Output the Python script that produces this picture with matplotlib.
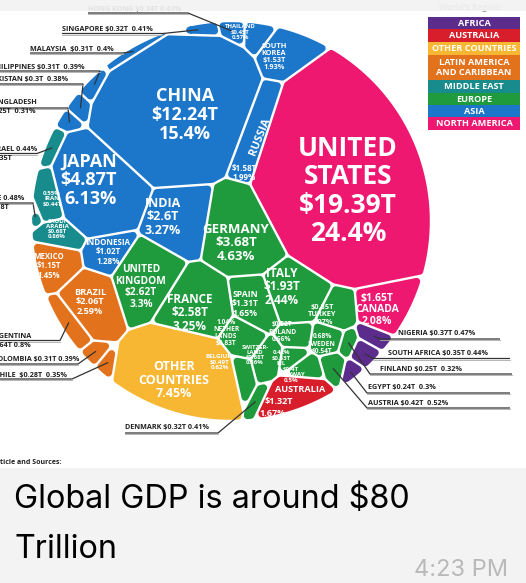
import numpy as np
import matplotlib
matplotlib.use("Agg")
import matplotlib.pyplot as plt
from matplotlib.patches import Polygon, Rectangle

# ---- data ---------------------------------------------------------------
countries = ["United States", "China", "Japan", "Germany", "United Kingdom", "India",
             "France", "Italy", "Brazil", "Canada", "Russia", "South Korea", "Australia",
             "Spain", "Mexico", "Indonesia", "Turkey", "Netherlands", "Saudi Arabia",
             "Switzerland", "Argentina", "Sweden", "Poland", "Belgium", "Thailand", "Iran",
             "Austria", "Norway", "UAE", "Nigeria", "Israel", "South Africa", "Hong Kong",
             "Ireland", "Denmark", "Singapore", "Malaysia", "Philippines", "Colombia",
             "Pakistan", "Chile", "Finland", "Bangladesh", "Egypt", "Other Countries"]
gdp_t = [19.39, 12.24, 4.87, 3.68, 2.62, 2.6, 2.58, 1.93, 2.06, 1.65, 1.58, 1.53, 1.32,
         1.31, 1.15, 1.02, 0.85, 0.83, 0.68, 0.68, 0.64, 0.54, 0.52, 0.49, 0.45, 0.44,
         0.42, 0.4, 0.38, 0.37, 0.35, 0.35, 0.34, 0.33, 0.32, 0.32, 0.31, 0.31, 0.31,
         0.3, 0.28, 0.25, 0.25, 0.24, 5.92]
share_pct = [24.4, 15.4, 6.13, 4.63, 3.3, 3.27, 3.25, 2.44, 2.59, 2.08, 1.99, 1.93, 1.67,
             1.65, 1.45, 1.28, 1.07, 1.04, 0.86, 0.86, 0.8, 0.68, 0.66, 0.62, 0.57, 0.55,
             0.52, 0.5, 0.48, 0.47, 0.44, 0.44, 0.43, 0.42, 0.41, 0.41, 0.4, 0.39, 0.39,
             0.38, 0.35, 0.32, 0.31, 0.3, 7.45]
region = ["North America", "Asia", "Asia", "Europe", "Europe", "Asia", "Europe", "Europe",
          "Latin America", "North America", "Asia", "Asia", "Australia", "Europe",
          "Latin America", "Asia", "Europe", "Europe", "Middle East", "Europe",
          "Latin America", "Europe", "Europe", "Europe", "Asia", "Middle East", "Europe",
          "Europe", "Middle East", "Africa", "Middle East", "Africa", "Asia", "Europe",
          "Europe", "Asia", "Asia", "Asia", "Latin America", "Asia", "Latin America",
          "Europe", "Asia", "Africa", "Other"]

legend_keys = ["Africa", "Australia", "Other", "Latin America", "Middle East", "Europe",
               "Asia", "North America"]
legend_text = ["AFRICA", "AUSTRALIA", "OTHER COUNTRIES", "LATIN AMERICA\nAND CARIBBEAN",
               "MIDDLE EAST", "EUROPE", "ASIA", "NORTH AMERICA"]
region_color = {"Africa": "#5b2c8c", "Australia": "#d81e2b", "Other": "#f7b733",
                "Latin America": "#e3721d", "Middle East": "#188b8c", "Europe": "#1f9a3d",
                "Asia": "#1c76c9", "North America": "#ee1870"}

# ---- layout -------------------------------------------------------------
plt.rcParams['font.family'] = ['Open Sans', 'DejaVu Sans']
W, H = 526, 583
cx, cy, R = 231.0, 221.0, 200.0

# anchor of each cell in the voronoi treemap (pixels)
site_xy = {
    "United States": (355, 170), "China": (170, 105), "Japan": (92, 190),
    "Germany": (238, 232), "United Kingdom": (145, 280), "India": (178, 222),
    "France": (190, 308), "Italy": (280, 287), "Brazil": (88, 298), "Canada": (382, 305),
    "Russia": (263, 140), "South Korea": (277, 62), "Australia": (292, 398),
    "Spain": (243, 300), "Mexico": (52, 260), "Indonesia": (103, 252), "Turkey": (325, 310),
    "Netherlands": (226, 332), "Saudi Arabia": (58, 228), "Switzerland": (255, 353),
    "Argentina": (62, 318), "Sweden": (316, 338), "Poland": (283, 333),
    "Belgium": (220, 362), "Thailand": (240, 34), "Iran": (52, 200), "Austria": (322, 365),
    "Norway": (294, 373), "UAE": (40, 205), "Nigeria": (370, 336), "Israel": (45, 168),
    "South Africa": (360, 354), "Hong Kong": (206, 33), "Ireland": (282, 357),
    "Denmark": (262, 384), "Singapore": (172, 41), "Malaysia": (137, 53),
    "Philippines": (108, 71), "Colombia": (84, 346), "Pakistan": (89, 91), "Chile": (101, 360),
    "Finland": (340, 345), "Bangladesh": (73, 109), "Egypt": (349, 371),
    "Other Countries": (175, 372),
}

S = np.array([site_xy[c] for c in countries], float)
n = len(S)

# power-diagram weights so that cell areas follow the GDP shares
step = 2.0
g = np.arange(-R, R, step) + step / 2
gx, gy = np.meshgrid(cx + g, cy + g)
ins = (gx - cx) ** 2 + (gy - cy) ** 2 <= R * R
P = np.column_stack([gx[ins], gy[ins]])
d2 = ((P[:, None, :] - S[None, :, :]) ** 2).sum(-1)
target = np.array(share_pct) / sum(share_pct) * len(P)
w = np.zeros(n)
for _ in range(700):
    cnt = np.bincount(np.argmin(d2 - w, axis=1), minlength=n)
    w += 0.5 * step ** 2 * (target - cnt)


def clip(poly, a, b, c):
    out = []
    m = len(poly)
    for k in range(m):
        p, q = poly[k], poly[(k + 1) % m]
        fp = a * p[0] + b * p[1] - c
        fq = a * q[0] + b * q[1] - c
        if fp <= 0:
            out.append(p)
        if fp * fq < 0:
            t = fp / (fp - fq)
            out.append((p[0] + t * (q[0] - p[0]), p[1] + t * (q[1] - p[1])))
    return out


def cell(i, inset):
    ts = np.linspace(0, 2 * np.pi, 240, endpoint=False)
    poly = [(cx + (R - inset) * np.cos(t), cy + (R - inset) * np.sin(t)) for t in ts]
    si = S[i]
    for j in range(n):
        if j == i:
            continue
        sj = S[j]
        a, b = 2 * (sj - si)
        c = sj @ sj - si @ si - w[j] + w[i] - inset * np.hypot(a, b)
        poly = clip(poly, a, b, c)
        if len(poly) < 3:
            return []
    return poly


def centroid(poly):
    x = np.array([p[0] for p in poly]); y = np.array([p[1] for p in poly])
    x1, y1 = np.roll(x, -1), np.roll(y, -1)
    cr = x * y1 - x1 * y
    A = cr.sum() / 2
    return (x + x1) @ cr / (6 * A), (y + y1) @ cr / (6 * A)


fig = plt.figure(figsize=(W / 100, H / 100), dpi=100, facecolor="#f3f3f3")
ax = fig.add_axes([0, 0, 1, 1])
ax.set_xlim(0, W)
ax.set_ylim(H, 0)
ax.axis("off")
ax.add_patch(Rectangle((0, 11), W, 457, fc="white", ec="none", zorder=0))

rr = 3.5  # corner rounding
centers = {}
for i, c in enumerate(countries):
    col = region_color[region[i]]
    full = cell(i, 0)
    if len(full) >= 3:
        centers[c] = centroid(full)
    poly = cell(i, rr + 1.2)
    lw = rr * 2 * 0.72
    if len(poly) < 3:
        poly = cell(i, 1.2); lw = 0
    if len(poly) >= 3:
        ax.add_patch(Polygon(poly, closed=True, fc=col, ec=col, lw=lw,
                             joinstyle="round", zorder=2))


def fmt(c, tpl):
    i = countries.index(c)
    return tpl.format(g=f"${gdp_t[i]:g}T", p=f"{share_pct[i]:g}%")


# labels inside the cells: country, x, y, size, template, rotation, ha
inside_labels = [
    ("United States", 348, 191, 19, "UNITED\nSTATES\n{g}\n{p}", 0, "center"),
    ("China", 185, 115, 13, "CHINA\n{g}\n{p}", 0, "center"),
    ("Japan", 117, 180, 13, "JAPAN\n{g}\n{p}", 0, "right"),
    ("India", 163, 217, 9, "INDIA\n{g}\n{p}", 0, "center"),
    ("Germany", 236, 243, 9.5, "GERMANY\n{g}\n{p}", 0, "center"),
    ("United Kingdom", 141, 287, 7.3, "UNITED\nKINGDOM\n{g}\n{p}", 0, "center"),
    ("France", 190, 313, 8.5, "FRANCE\n{g}\n{p}", 0, "center"),
    ("Italy", 282, 287, 8.5, "ITALY\n{g}\n{p}", 0, "center"),
    ("Spain", 245, 304, 6.2, "SPAIN\n{g}\n{p}", 0, "center"),
    ("Netherlands", 226, 333, 4.8, "{p}\nNETHER\nLANDS\n{g}", 0, "center"),
    ("Turkey", 322, 315, 5.3, "{g}\nTURKEY\n{p}", 0, "center"),
    ("Poland", 282, 332, 4.8, "{g}\nPOLAND\n{p}", 0, "center"),
    ("Sweden", 322, 344, 4.8, "{p}\nSWEDEN\n{g}", 0, "center"),
    ("Belgium", 220, 362, 4.5, "BELGIUM\n{g}\n{p}", 0, "center"),
    ("Switzerland", 255, 355, 4.3, "SWITZER-\nLAND\n{g}\n{p}", 0, "center"),
    ("Ireland", 281, 358, 4.3, "{p}\n{g}\nIRL", 0, "center"),
    ("Norway", 291, 375, 4.5, "{g}\nNORWAY\n{p}", 0, "center"),
    ("Canada", 377, 310, 7.5, "{g}\nCANADA\n{p}", 0, "center"),
    ("Australia", 300, 390, 6.6, "AUSTRALIA", 0, "center"),
    ("Australia", 279, 401.5, 6.6, "{g}", 0, "center"),
    ("Australia", 273, 413, 6.6, "{p}", 0, "center"),
    ("Other Countries", 174, 380, 9, "OTHER\nCOUNTRIES\n{p}", 0, "center"),
    ("Mexico", 49, 266, 5.6, "MEXICO\n{g}\n{p}", 0, "center"),
    ("Brazil", 90, 302, 6.6, "BRAZIL\n{g}\n{p}", 0, "center"),
    ("Iran", 52, 199, 4.4, "{p}\nIRAN\n{g}", 0, "center"),
    ("Saudi Arabia", 57, 229, 4.4, "SAUDI\nARABIA\n{g}\n{p}", 0, "center"),
    ("Indonesia", 108, 252, 5.8, "INDONESIA\n{g}\n{p}", 0, "center"),
    ("South Korea", 274, 57, 5.3, "SOUTH\nKOREA\n{g}\n{p}", 0, "center"),
    ("Thailand", 240, 32, 4.3, "THAILAND\n{g}\n{p}", 0, "center"),
    ("Russia", 260, 137, 8, "RUSSIA", 68, "center"),
    ("Russia", 244, 173, 5.8, "{g}\n{p}", 0, "center"),
]
for c, x, y, s, tpl, rot, ha in inside_labels:
    ax.text(x, y, fmt(c, tpl), fontsize=s, fontweight="bold", color="white",
            ha=ha, va="center", multialignment=ha, rotation=rot, linespacing=1.05,
            zorder=5)

# labels outside with leader lines: country, template, text x, text y, underline y,
# far end of underline, elbow x
outside_labels = [
    ("Hong Kong", "HONG KONG {g} {p}", 88, 9, 13, 88, 188),
    ("Singapore", "SINGAPORE {g}  {p}", 62, 29, 33.5, 62, 163),
    ("Malaysia", "MALAYSIA  {g}  {p}", 30, 49, 53, 30, 123),
    ("Philippines", "PHILIPPINES {g}  {p}", -9, 67, 71, 0, 100),
    ("Pakistan", "PAKISTAN {g}  {p}", -12, 80, 84, 0, 83),
    ("Bangladesh", "BANGLADESH\n{g}  {p}", -12, 107, 108, 0, 68),
    ("Israel", "ISRAEL {p}\n{g}", -10, 154, 153.5, 0, 37),
    ("UAE", "UAE {p}\n{g}", -13, 203, 203, 0, 33),
    ("Argentina", "ARGENTINA\n{g} {p}", -11, 341, 340.5, 0, 60),
    ("Colombia", "COLOMBIA {g} {p}", -7, 360, 364, 0, 78),
    ("Chile", "CHILE  {g}  {p}", -5, 375, 379, 0, 72),
    ("Denmark", "DENMARK {g} {p}", 125, 428, 433, 125, 218),
    ("Nigeria", "NIGERIA {g} {p}", 398, 334, 339, 500, 380),
    ("South Africa", "SOUTH AFRICA {g} {p}", 388, 354, 358.5, 510, 373),
    ("Finland", "FINLAND {g}  {p}", 380, 369, 374, 512, 370),
    ("Egypt", "EGYPT {g}  {p}", 368, 388, 393, 510, 367),
    ("Austria", "AUSTRIA {g}  {p}", 368, 403, 408, 510, 367),
]
for c, tpl, tx, ty, uy, far, elbow in outside_labels:
    ax.text(tx, ty, fmt(c, tpl), fontsize=5.2, fontweight="bold", color="#222222",
            ha="left", va="center", linespacing=1.45, zorder=5)
    ex, ey = centers.get(c, site_xy[c])
    ax.plot([far, elbow, ex], [uy, uy, ey], color="#333333", lw=0.9, zorder=4,
            solid_capstyle="butt")
    ax.plot([far, elbow], [uy + 1.3, uy + 1.3], color="#aaaaaa", lw=0.6, zorder=4)

# region legend
rows = [(17, 29), (29, 42), (42, 55), (55, 80), (80, 93), (93, 105), (105, 117), (117, 130)]
for key, txt, (y0, y1) in zip(legend_keys, legend_text, rows):
    box = Rectangle((428, y0), 92, y1 - y0, fc=region_color[key], ec="none", zorder=3)
    ax.add_patch(box)
    t = ax.text(474, (y0 + y1) / 2, txt, fontsize=6.6, fontweight="bold", color="white",
                ha="center", va="center", linespacing=1.05, zorder=4, clip_on=True)
    t.set_clip_path(box)
ax.text(470, 8, "World's Region", fontsize=6, fontweight="bold", color="#999999",
        ha="center", va="center", zorder=1)

# screenshot chrome
ax.add_patch(Rectangle((0, 0), W, 11, fc="#f3f3f3", ec="none", alpha=0.92, zorder=8))
ax.text(-8, 463, "Article and Sources:", fontsize=5, fontweight="bold", color="#222222",
        ha="left", va="center", zorder=5)
ax.text(14, 508, "Global GDP is around $80", fontsize=23.3, family="Inter", color="black",
        ha="left", va="baseline")
ax.text(14, 558, "Trillion", fontsize=23.3, family="Inter", color="black",
        ha="left", va="baseline")
ax.text(508, 576, "4:23 PM", fontsize=17, family="Inter", color="#b9b9b9",
        ha="right", va="baseline")

fig.savefig("out.png", dpi=100, facecolor=fig.get_facecolor())
